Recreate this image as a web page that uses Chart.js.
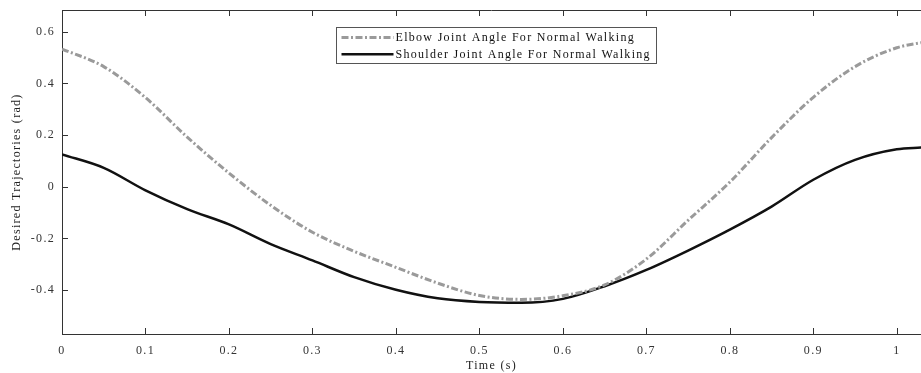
<!DOCTYPE html>
<html>
<head>
<meta charset="utf-8">
<script src="https://cdn.jsdelivr.net/npm/chart.js@4.4.1/dist/chart.umd.min.js"></script>
<style>
  html, body { margin: 0; padding: 0; background: #fff; }
  #wrap { width: 921px; height: 373px; }
</style>
</head>
<body>
<div id="wrap"><canvas id="trajChart" width="921" height="373"></canvas></div>
<script>
const timeValues = [0, 0.05, 0.1, 0.15, 0.2, 0.25, 0.3, 0.35, 0.4, 0.45, 0.5, 0.55, 0.6, 0.65, 0.7, 0.75, 0.8, 0.85, 0.9, 0.95, 1.0, 1.03];
const elbowAngle = [0.533, 0.465, 0.345, 0.192, 0.053, -0.072, -0.176, -0.25, -0.312, -0.373, -0.421, -0.436, -0.422, -0.38, -0.28, -0.13, 0.018, 0.19, 0.346, 0.465, 0.538, 0.558];
const shoulderAngle = [0.125, 0.073, -0.014, -0.087, -0.146, -0.222, -0.285, -0.35, -0.399, -0.432, -0.446, -0.449, -0.434, -0.385, -0.322, -0.247, -0.166, -0.077, 0.027, 0.104, 0.145, 0.152];
const xTicks = [0, 0.1, 0.2, 0.3, 0.4, 0.5, 0.6, 0.7, 0.8, 0.9, 1];
const yTicks = [-0.4, -0.2, 0, 0.2, 0.4, 0.6];
const seriesLabels = ['Elbow Joint Angle For Normal Walking', 'Shoulder Joint Angle For Normal Walking'];

const FONT = 'Liberation Serif, Times New Roman, serif';
const AXIS = '#333';

function toPoints(ys) {
  return timeValues.map((t, i) => ({ x: t, y: ys[i] }));
}

// text in the figure is slightly stretched, letter spacing gets close
const spacingPlugin = {
  id: 'spacing',
  beforeUpdate(chart) { chart.ctx.letterSpacing = '1.3px'; },
  beforeDraw(chart) { chart.ctx.letterSpacing = '1.3px'; }
};

// matlab style box: inward ticks and top border
const boxPlugin = {
  id: 'box',
  afterDraw(chart) {
    const { ctx, chartArea: a } = chart;
    const xs = chart.scales.x, ys = chart.scales.y;
    ctx.save();
    ctx.strokeStyle = AXIS;
    ctx.lineWidth = 1;
    ctx.beginPath();
    ctx.moveTo(a.left, a.top + 0.5);
    ctx.lineTo(a.right, a.top + 0.5);
    xs.ticks.forEach(t => {
      const px = Math.round(xs.getPixelForValue(t.value)) + 0.5;
      ctx.moveTo(px, a.bottom);
      ctx.lineTo(px, a.bottom - 6);
      ctx.moveTo(px, a.top);
      ctx.lineTo(px, a.top + 6);
    });
    ys.ticks.forEach(t => {
      const py = Math.round(ys.getPixelForValue(t.value)) + 0.5;
      ctx.moveTo(a.left, py);
      ctx.lineTo(a.left + 6, py);
    });
    ctx.stroke();
    ctx.restore();
  }
};

const legendPlugin = {
  id: 'boxLegend',
  afterDraw(chart) {
    const { ctx, chartArea: a } = chart;
    const x0 = a.left + 274.5, y0 = a.top + 17.5, w = 320, h = 36;
    ctx.save();
    ctx.fillStyle = '#fff';
    ctx.fillRect(x0, y0, w, h);
    ctx.strokeStyle = '#555';
    ctx.lineWidth = 1;
    ctx.strokeRect(x0, y0, w, h);
    ctx.font = '12px ' + FONT;
    ctx.textBaseline = 'middle';
    ctx.fillStyle = '#111';
    chart.data.datasets.forEach((ds, i) => {
      const ry = y0 + 10 + i * 16.7;
      ctx.beginPath();
      ctx.strokeStyle = ds.borderColor;
      ctx.lineWidth = ds.borderWidth;
      ctx.setLineDash(ds.borderDash || []);
      ctx.moveTo(x0 + 5, ry);
      ctx.lineTo(x0 + 57, ry);
      ctx.stroke();
      ctx.setLineDash([]);
      ctx.fillText(ds.label, x0 + 59, ry + 0.5);
    });
    ctx.restore();
  }
};

new Chart(document.getElementById('trajChart'), {
  type: 'line',
  data: {
    datasets: [
      {
        label: seriesLabels[0],
        data: toPoints(elbowAngle),
        borderColor: '#9a9a9a',
        borderWidth: 3,
        borderDash: [7, 2.5, 2, 2.5],
        pointRadius: 0,
        cubicInterpolationMode: 'monotone'
      },
      {
        label: seriesLabels[1],
        data: toPoints(shoulderAngle),
        borderColor: '#111',
        borderWidth: 2.5,
        pointRadius: 0,
        cubicInterpolationMode: 'monotone'
      }
    ]
  },
  options: {
    responsive: false,
    animation: false,
    layout: { padding: { top: 10, right: 0, left: 0, bottom: 0 } },
    plugins: {
      legend: { display: false },
      tooltip: { enabled: false }
    },
    scales: {
      x: {
        type: 'linear',
        min: 0,
        max: 1.029,
        afterBuildTicks: s => { s.ticks = xTicks.map(v => ({ value: v })); },
        afterFit: s => { s.height = 39; s.paddingRight = 0; },
        grid: { display: false, drawTicks: false },
        border: { display: true, color: AXIS, width: 1 },
        ticks: {
          padding: 10,
          color: '#333',
          font: { family: FONT, size: 12 },
          callback: v => String(v),
          maxRotation: 0
        },
        title: {
          display: true,
          text: 'Time (s)',
          color: '#222',
          font: { family: FONT, size: 12 },
          padding: { top: 4, bottom: 0 }
        }
      },
      y: {
        min: -0.57,
        max: 0.684,
        afterBuildTicks: s => { s.ticks = yTicks.map(v => ({ value: v })); },
        afterFit: s => { s.width = 62; s.paddingTop = 0; s.paddingBottom = 0; },
        grid: { display: false, drawTicks: false },
        border: { display: true, color: AXIS, width: 1 },
        ticks: {
          padding: 7,
          color: '#333',
          font: { family: FONT, size: 12 },
          callback: v => String(v)
        },
        title: {
          display: true,
          text: 'Desired Trajectories (rad)',
          color: '#222',
          font: { family: FONT, size: 12 },
          padding: { top: 10, bottom: 0 }
        }
      }
    }
  },
  plugins: [spacingPlugin, boxPlugin, legendPlugin]
});
</script>
</body>
</html>
